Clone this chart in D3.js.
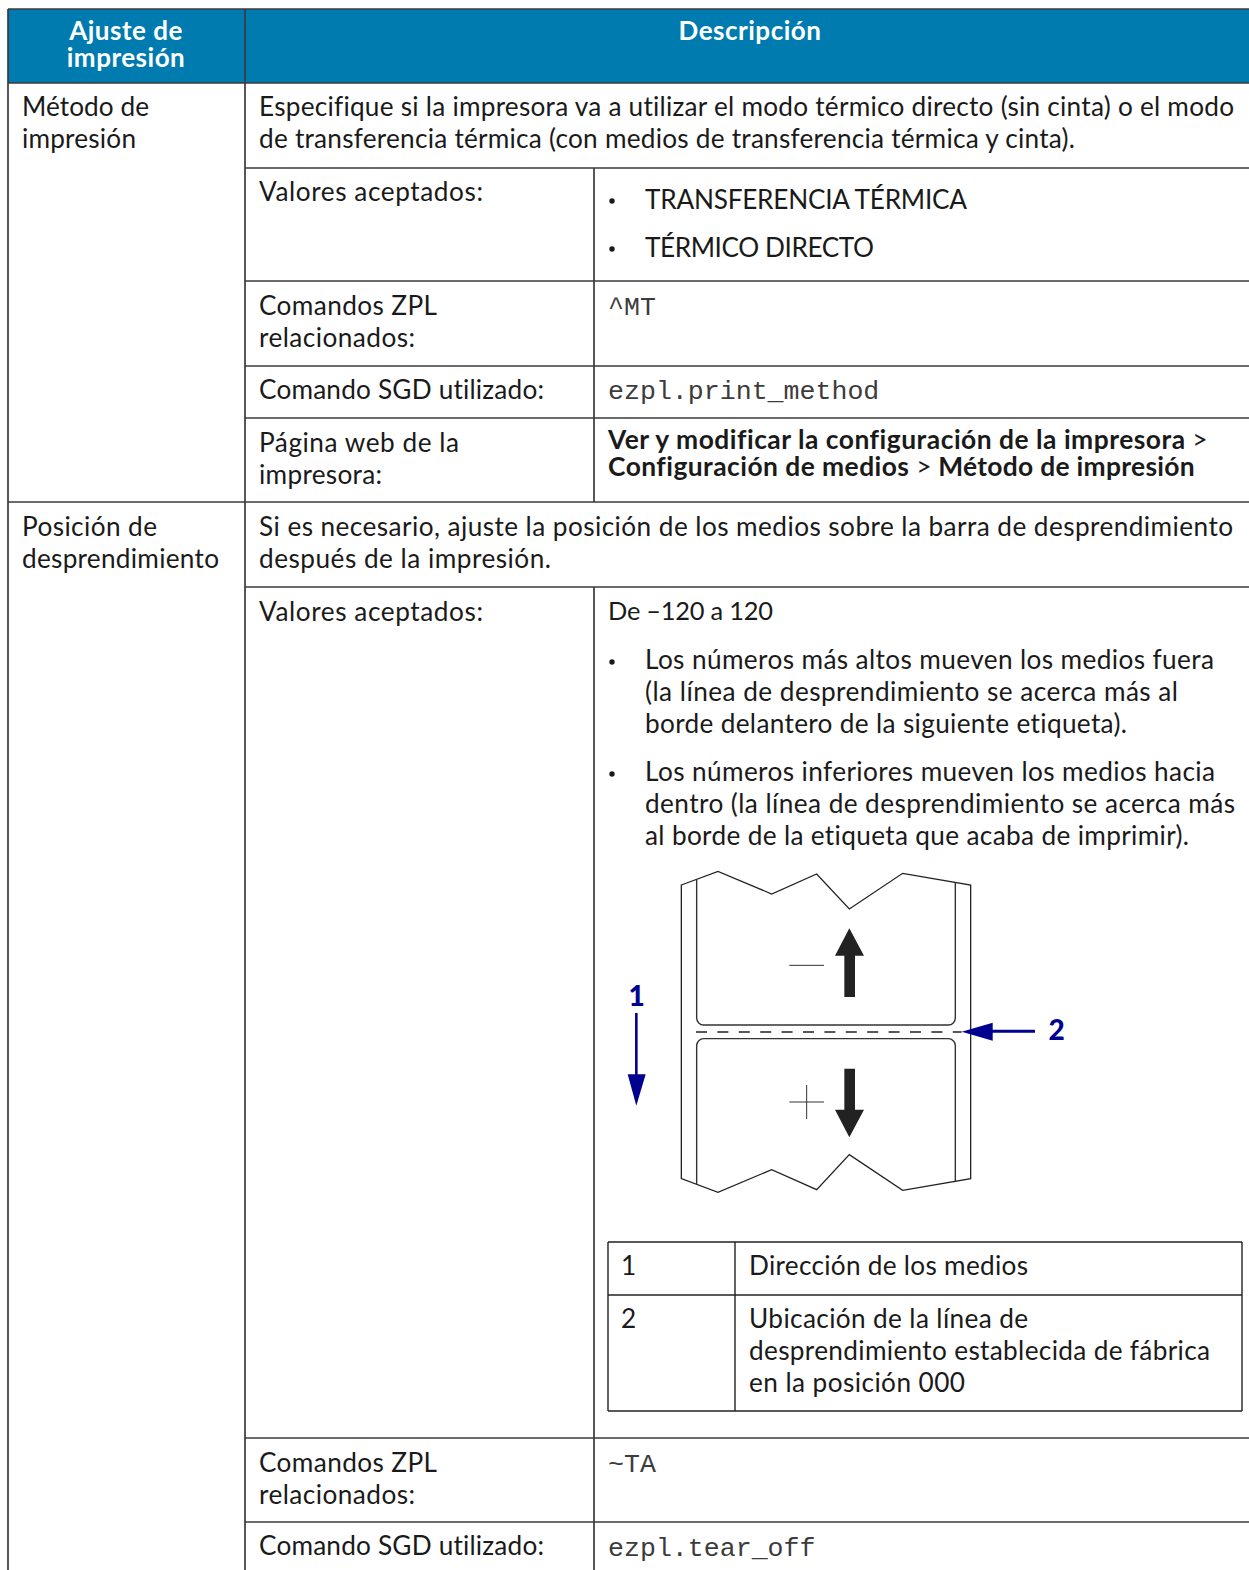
<!DOCTYPE html>
<html>
<head>
<meta charset="utf-8">
<script src="https://cdn.jsdelivr.net/npm/d3@7"></script>
<style>
  html, body { margin: 0; background: #fff; }
  svg { display: block; }
  text { font-family: Lato, "Open Sans", sans-serif; fill: #1a1a1a; font-variant-ligatures: none; }
</style>
</head>
<body>
<div id="chart"></div>
<script>
// table content
var headers = ["Descripción"];
var headerLeft = ["Ajuste de", "impresión"];
var settingOne = ["Método de", "impresión"];
var settingTwo = ["Posición de", "desprendimiento"];
var introOne = ["Especifique si la impresora va a utilizar el modo térmico directo (sin cinta) o el modo",
  "de transferencia térmica (con medios de transferencia térmica y cinta)."];
var introTwo = ["Si es necesario, ajuste la posición de los medios sobre la barra de desprendimiento",
  "después de la impresión."];
var accepted = ["Valores aceptados:"];
var zplLabel = ["Comandos ZPL", "relacionados:"];
var sgdLabel = ["Comando SGD utilizado:"];
var webLabel = ["Página web de la", "impresora:"];
var methodValues = ["TRANSFERENCIA TÉRMICA", "TÉRMICO DIRECTO"];
var range = ["De –120 a 120"];
var bulletHigh = ["Los números más altos mueven los medios fuera",
  "(la línea de desprendimiento se acerca más al",
  "borde delantero de la siguiente etiqueta)."];
var bulletLow = ["Los números inferiores mueven los medios hacia",
  "dentro (la línea de desprendimiento se acerca más",
  "al borde de la etiqueta que acaba de imprimir)."];
var legendNumbers = ["1", "2"];
var legendOne = ["Dirección de los medios"];
var legendTwo = ["Ubicación de la línea de",
  "desprendimiento establecida de fábrica",
  "en la posición 000"];

// diagram outlines, in units of the drawing
var labelOutline = [[244,105],[354,64],[515,132],[650,72],[748,177],[908,70],[1112,105],
  [1112,986],[908,1021],[748,914],[650,1019],[515,959],[354,1027],[244,986]];
var arrowUp = [[748,235],[792,317],[765,317],[765,441],[733,441],[733,317],[705,317]];
var arrowDown = [[733,656],[765,656],[765,779],[792,779],[748,862],[705,779],[733,779]];
var headLeft = [[1178,518],[1178,572],[1085,545]];
var headDown = [[83,673],[137,673],[109,767]];

// the font differs from the original one, so each line is fitted to its measured width
var lineWidths = new Map([
  [introOne[0], 975], [introOne[1], 816], [introTwo[0], 974], [introTwo[1], 292],
  [accepted[0], 224], [zplLabel[0], 178], [zplLabel[1], 156], [sgdLabel[0], 285],
  [webLabel[0], 200], [webLabel[1], 123], [methodValues[0], 322], [methodValues[1], 229],
  [bulletHigh[0], 569], [bulletHigh[1], 533], [bulletHigh[2], 482],
  [bulletLow[0], 570], [bulletLow[1], 590], [bulletLow[2], 544],
  [legendOne[0], 279], [legendTwo[0], 279], [legendTwo[1], 461], [legendTwo[2], 216],
  [settingOne[0], 127], [settingOne[1], 114], [settingTwo[0], 135], [settingTwo[1], 197],
  [range[0], 165]
]);

var width = 1249, height = 1570;
var headerColor = "#007bb0";
var lineColor = "#3a3a3a";
var blue = "#00008f";
var fontSize = 26.2;
var lineHeight = 32;

var svg = d3.select("#chart").append("svg")
  .attr("width", width).attr("height", height)
  .attr("viewBox", [0, 0, width, height]);

/* Header */
svg.append("rect").attr("x", 8).attr("y", 9).attr("width", width - 8).attr("height", 74)
  .attr("fill", headerColor);

function text(x, y, lines, opt) {
  opt = opt || {};
  svg.append("g").selectAll("text").data(lines).join("text")
    .attr("x", x)
    .attr("y", (d, i) => y + i * (opt.lh || lineHeight))
    .attr("text-anchor", opt.anchor || "start")
    .attr("font-weight", opt.weight || 400)
    .attr("font-size", opt.size || fontSize)
    .attr("textLength", d => opt.noFit ? null : (lineWidths.get(d) || null))
    .attr("lengthAdjust", "spacing")
    .style("fill", opt.fill || null)
    .style("font-family", opt.family || null)
    .style("letter-spacing", opt.spacing || null)
    .text(d => d);
}

/* Grid */
var hLines = [[8, 1249, 9], [8, 1249, 83], [245, 1249, 168], [245, 1249, 281], [245, 1249, 366],
  [245, 1249, 418], [8, 1249, 502], [245, 1249, 587], [245, 1249, 1438], [245, 1249, 1522]];
var vLines = [[8, 9, 1570], [245, 9, 1570], [594, 168, 502], [594, 587, 1570]];

svg.append("g").selectAll("line").data(hLines).join("line")
  .attr("x1", d => d[0]).attr("x2", d => d[1]).attr("y1", d => d[2]).attr("y2", d => d[2])
  .attr("stroke", lineColor).attr("stroke-width", 1.7);
svg.append("g").selectAll("line").data(vLines).join("line")
  .attr("x1", d => d[0]).attr("x2", d => d[0]).attr("y1", d => d[1]).attr("y2", d => d[2])
  .attr("stroke", lineColor).attr("stroke-width", 1.7);

/* Header text */
var white = { anchor: "middle", weight: 700, fill: "#fff", lh: 27, size: 26, spacing: "0.5px", noFit: true };
text(126, 40, headerLeft, white);
text(750, 40, headers, white);

/* Left column */
text(22, 116, settingOne);
text(22, 536, settingTwo);
text(259, 116, introOne);
text(259, 536, introTwo);

/* First setting */
text(259, 201, accepted);
text(259, 315, zplLabel);
text(259, 399, sgdLabel);
text(259, 452, webLabel);
text(645, 209, methodValues.slice(0, 1));
text(645, 257, methodValues.slice(1));

var mono = { family: "'Liberation Mono', monospace", size: 26.6, fill: "#3c3c3c" };
text(608, 315, ["^MT"], mono);
text(608, 399, ["ezpl.print_method"], mono);

var webRow = svg.append("g").attr("font-size", 26.4);
[[449, [["Ver y modificar la configuración de la impresora", 700, 0.5], [" > ", 400, 0]]],
 [476, [["Configuración de medios", 700, 0.45], [" > ", 400, 0], ["Método de impresión", 700, 0.3]]]].forEach(function (row) {
  var t = webRow.append("text").attr("x", 608).attr("y", row[0]).attr("xml:space", "preserve");
  row[1].forEach(function (s) {
    t.append("tspan").attr("font-weight", s[1]).style("letter-spacing", s[2] + "px").text(s[0]);
  });
});

/* Second setting */
text(259, 621, accepted);
text(608, 620, range, { size: 25.4 });
text(645, 669, bulletHigh);
text(645, 781, bulletLow);
text(259, 1472, zplLabel);
text(259, 1555, sgdLabel);
text(608, 1472, ["~TA"], mono);
text(608, 1556, ["ezpl.tear_off"], mono);

svg.append("g").selectAll("circle").data([200, 248, 661, 773]).join("circle")
  .attr("cx", 612).attr("cy", d => d + 1).attr("r", 2.7).attr("fill", "#1a1a1a");

/* Diagram */
var dx = d3.scaleLinear().domain([0, 1500]).range([600, 1100]);
var dy = d3.scaleLinear().domain([0, 1110]).range([850, 1220]);
var poly = d3.line().x(d => dx(d[0])).y(d => dy(d[1]));
var diagram = svg.append("g");

diagram.append("path").attr("d", poly(labelOutline) + "Z")
  .attr("fill", "#fff").attr("stroke", "#222").attr("stroke-width", 1.3);

function labelPath(yEdge, yOuter, yStraight) {
  var x0 = dx(290), x1 = dx(1066), r = 7;
  var sweep = yEdge > yOuter ? 0 : 1;
  var ys = dy(yEdge), dir = yEdge > yOuter ? -1 : 1;
  return "M" + x0 + "," + dy(yOuter) + "L" + x0 + "," + (ys + dir * r)
    + "A" + r + "," + r + " 0 0 " + sweep + " " + (x0 + r) + "," + ys
    + "L" + (x1 - r) + "," + ys
    + "A" + r + "," + r + " 0 0 " + sweep + " " + x1 + "," + (ys + dir * r)
    + "L" + x1 + "," + dy(yStraight);
}
diagram.append("path").attr("d", labelPath(525, 88, 98)).attr("fill", "none").attr("stroke", "#333").attr("stroke-width", 1.4);
diagram.append("path").attr("d", labelPath(566, 1002, 993)).attr("fill", "none").attr("stroke", "#333").attr("stroke-width", 1.4);

diagram.append("line").attr("x1", dx(288)).attr("x2", dx(1085)).attr("y1", dy(546)).attr("y2", dy(546))
  .attr("stroke", "#222").attr("stroke-width", 1.6).attr("stroke-dasharray", "11,10.4");

[arrowUp, arrowDown].forEach(a => diagram.append("path").attr("d", poly(a) + "Z").attr("fill", "#222"));

var signs = [[[568,346],[672,346]], [[568,756],[672,756]], [[620,705],[620,807]]];
diagram.selectAll(".sign").data(signs).join("path").attr("class", "sign")
  .attr("d", poly).attr("fill", "none").attr("stroke", "#333").attr("stroke-width", 1);

diagram.append("path").attr("d", poly([[109,489],[109,680]])).attr("stroke", blue).attr("stroke-width", 2.6);
diagram.append("path").attr("d", poly(headDown) + "Z").attr("fill", blue);
diagram.append("path").attr("d", poly([[1305,544],[1170,544]])).attr("stroke", blue).attr("stroke-width", 3);
diagram.append("path").attr("d", poly(headLeft) + "Z").attr("fill", blue);

var digit = { weight: 900, size: 28, fill: blue, anchor: "middle" };
text(dx(110), dy(466) + 1, legendNumbers.slice(0, 1), digit);
text(dx(1370), dy(567) + 1, legendNumbers.slice(1), digit);

/* Legend table */
var legendBox = [[608, 1242, 1242, 1242], [608, 1242, 1295, 1295], [608, 1242, 1411, 1411],
  [608, 608, 1242, 1411], [735, 735, 1242, 1411], [1242, 1242, 1242, 1411]];
svg.append("g").selectAll("line").data(legendBox).join("line")
  .attr("x1", d => d[0]).attr("x2", d => d[1]).attr("y1", d => d[2]).attr("y2", d => d[3])
  .attr("stroke", "#222").attr("stroke-width", 1.4);

text(621, 1275, legendNumbers.slice(0, 1));
text(621, 1328, legendNumbers.slice(1));
text(749, 1275, legendOne);
text(749, 1328, legendTwo);
</script>
</body>
</html>
